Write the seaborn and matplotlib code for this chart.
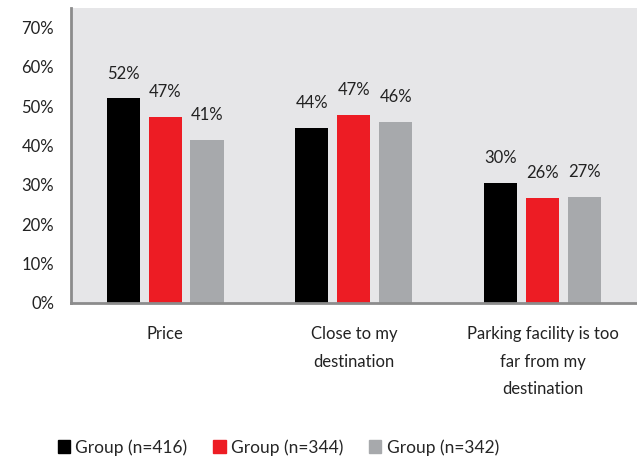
import numpy as np
import pandas as pd
import matplotlib
matplotlib.use("Agg")
import matplotlib.pyplot as plt
import seaborn as sns

categories = ["Price", "Close to my\ndestination", "Parking facility is too\nfar from my\ndestination"]
groups = ["Group (n=416)", "Group (n=344)", "Group (n=342)"]
values_416 = [0.52, 0.445, 0.305]
values_344 = [0.473, 0.478, 0.267]
values_342 = [0.415, 0.46, 0.27]
labels_416 = ["52%", "44%", "30%"]
labels_344 = ["47%", "47%", "26%"]
labels_342 = ["41%", "46%", "27%"]

colors = ["#000000", "#ed1c24", "#a7a9ac"]

df = pd.DataFrame({
    "category": categories * 3,
    "group": [groups[0]] * 3 + [groups[1]] * 3 + [groups[2]] * 3,
    "value": values_416 + values_344 + values_342,
})

sns.set_style("white")
plt.rcParams["font.family"] = ["Lato", "DejaVu Sans"]

fig = plt.figure(figsize=(6.37, 4.61), dpi=100)
ax = fig.add_axes([0.111, 0.343, 0.889, 0.64])
ax.set_facecolor("#e6e6e8")

sns.barplot(data=df, x="category", y="value", hue="group", palette=colors,
            width=0.667, gap=0.21, saturation=1, linewidth=0, legend=False, ax=ax)

all_labels = [labels_416, labels_344, labels_342]
for cont, labs in zip(ax.containers, all_labels):
    ax.bar_label(cont, labels=labs, padding=12, fontsize=12, color="#222222")

ax.set_ylim(0, 0.75)
ax.set_xlim(-0.5, 2.5)
ticks = np.arange(0, 0.71, 0.1)
ax.set_yticks(ticks)
ax.set_yticklabels([f"{int(round(t * 100))}%" for t in ticks])
ax.set_xticks(range(len(categories)))
ax.set_xticklabels(categories, linespacing=1.85)
ax.tick_params(axis="y", length=0, pad=12, labelsize=12, labelcolor="#222222")
ax.tick_params(axis="x", length=0, pad=17, labelsize=12, labelcolor="#222222")
ax.set_xlabel("")
ax.set_ylabel("")

for side in ["top", "right"]:
    ax.spines[side].set_visible(False)
for side in ["left", "bottom"]:
    ax.spines[side].set_color("#8c8c8c")
    ax.spines[side].set_linewidth(2)

handles = [plt.Rectangle((0, 0), 1, 1, color=c) for c in colors]
fig.legend(handles, groups, loc="lower center", bbox_to_anchor=(0.437, -0.022), ncol=3,
           frameon=False, fontsize=12.5, handlelength=0.7, handleheight=0.7,
           handletextpad=0.3, columnspacing=1.5)

fig.savefig("out.png", dpi=100)
